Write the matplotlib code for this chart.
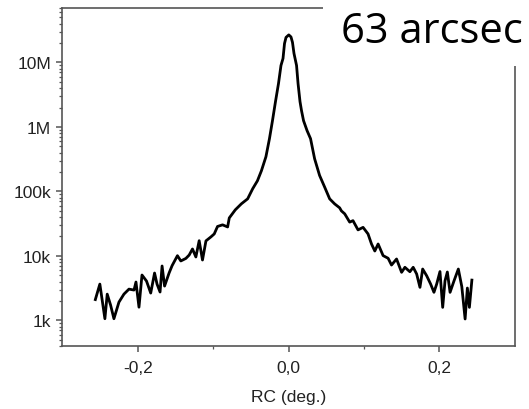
import matplotlib
matplotlib.use("Agg")
import matplotlib.pyplot as plt
from matplotlib.ticker import FixedLocator, LogLocator, NullFormatter
from matplotlib.patches import Rectangle

# Rocking curve data (deg, counts)
rc_deg = [-0.2567, -0.2507, -0.2440, -0.2409, -0.2364, -0.2320, -0.2253, -0.2187,
          -0.2120, -0.2053, -0.2027, -0.1987, -0.1947, -0.1887, -0.1831, -0.1780,
          -0.1747, -0.1707, -0.1680, -0.1647, -0.1587, -0.1547, -0.1476, -0.1431,
          -0.1364, -0.1320, -0.1276, -0.1231, -0.1187, -0.1143, -0.1097, -0.1031,
          -0.0987, -0.0943, -0.0876, -0.0809, -0.0787, -0.0707, -0.0627, -0.0543,
          -0.0476, -0.0413, -0.0360, -0.0300, -0.0253, -0.0213, -0.0173, -0.0133,
          -0.0100, -0.0073, -0.0053, -0.0033, 0.0004, 0.0033, 0.0053, 0.0073,
          0.0107, 0.0127,
          0.0153, 0.0173, 0.0200, 0.0247, 0.0293, 0.0347, 0.0413, 0.0480,
          0.0547, 0.0613, 0.0680, 0.0703, 0.0747, 0.0813, 0.0857, 0.0924,
          0.0991, 0.1057, 0.1103, 0.1147, 0.1191, 0.1257, 0.1324, 0.1369,
          0.1436, 0.1503, 0.1547, 0.1613, 0.1657, 0.1703, 0.1747, 0.1783,
          0.1836, 0.1889, 0.1933, 0.1969, 0.2013, 0.2049, 0.2080, 0.2111,
          0.2147, 0.2200, 0.2257, 0.2303, 0.2347, 0.2377, 0.2404, 0.2437]
counts = [2100, 3650, 1060, 2550, 1720, 1060, 1920, 2550,
          3050, 2950, 3930, 1600, 5050, 4070, 2650, 5420,
          3650, 2750, 6970, 3400, 5420, 7050, 10070, 8340,
          9130, 10300, 12800, 9620, 17200, 8630, 17100, 19700,
          21900, 28600, 30300, 28100, 38800, 51800, 64100, 76700,
          110000, 146000, 209000, 345000, 658000, 1250000, 2470000, 4710000,
          8980000, 11540000, 19700000, 24500000, 26800000, 24900000, 20500000, 13800000,
          8980000, 4710000,
          2470000, 1790000, 1250000, 875000, 658000, 321000, 177000, 117000,
          76700, 64100, 55600, 49900, 44900, 33400, 35200, 25300,
          27700, 21900, 15300, 11900, 15300, 10100, 9180, 7210,
          8950, 5560, 6650, 5680, 6650, 5240, 3250, 6250,
          4920, 3650, 2720, 3650, 5710, 1590, 4110, 5620,
          2720, 4110, 6250, 3340, 1050, 3170, 1590, 4210]

x_ticks = [-0.2, 0.0, 0.2]
x_tick_labels = ["-0,2", "0,0", "0,2"]
y_ticks = [1e3, 1e4, 1e5, 1e6, 1e7]
y_tick_labels = ["1k", "10k", "100k", "1M", "10M"]

W, H = 529, 410
fig = plt.figure(figsize=(W / 100, H / 100), dpi=100)
ax = fig.add_axes([62 / W, 1 - 347 / H, (515 - 62) / W, (347 - 9) / H])

ax.plot(rc_deg, counts, color="black", lw=2.0, solid_joinstyle="round")
ax.set_yscale("log")
ax.set_xlim(-0.301, 0.301)
ax.set_ylim(400, 7e7)

spine_color = "#555555"
for s in ax.spines.values():
    s.set_color(spine_color)
    s.set_linewidth(1.2)

ax.xaxis.set_major_locator(FixedLocator(x_ticks))
ax.set_xticklabels(x_tick_labels)
ax.xaxis.set_minor_locator(FixedLocator([-0.1, 0.1]))
ax.yaxis.set_major_locator(FixedLocator(y_ticks))
ax.set_yticklabels(y_tick_labels)
ax.yaxis.set_minor_locator(LogLocator(base=10, subs=range(2, 10), numticks=20))
ax.yaxis.set_minor_formatter(NullFormatter())

ax.tick_params(which="major", direction="out", length=4, width=1.1, color=spine_color,
               labelsize=12.5, labelcolor="#222222", pad=4)
ax.tick_params(which="minor", direction="out", length=2.5, width=0.9, color=spine_color)
ax.tick_params(axis="x", which="major", pad=6)

for lab in ax.get_xticklabels() + ax.get_yticklabels():
    lab.set_family("Liberation Sans")

ax.set_xlabel("RC (deg.)", fontsize=12.5, family="Liberation Sans", color="#222222",
              labelpad=10)

# white box covering the top-right area with the annotation
fig.patches.append(Rectangle((323 / W, 1 - 67 / H), (W - 323) / W, 67 / H,
                             transform=fig.transFigure, facecolor="white",
                             edgecolor="none", zorder=10))
fig.text(341 / W, 1 - 43 / H, "63 arcsec", fontsize=30, family="Open Sans",
         color="black", ha="left", va="baseline", zorder=11)

fig.savefig("out.png", dpi=100)
